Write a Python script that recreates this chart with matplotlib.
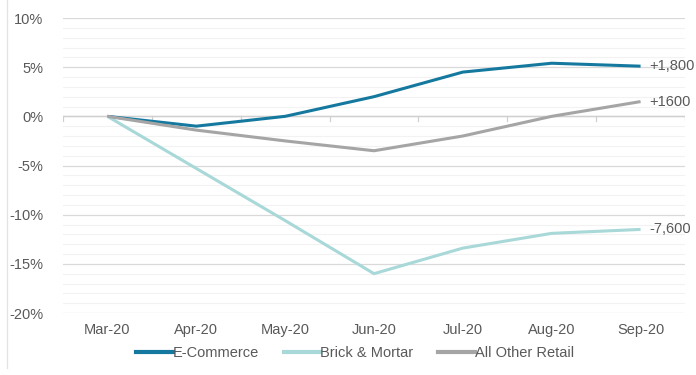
import matplotlib.pyplot as plt
from matplotlib.ticker import MultipleLocator, FuncFormatter
from matplotlib.lines import Line2D

plt.rcParams['font.family'] = ['Liberation Sans', 'DejaVu Sans']

# monthly change vs March, in percent
months = ['Mar-20', 'Apr-20', 'May-20', 'Jun-20', 'Jul-20', 'Aug-20', 'Sep-20']
ecommerce = [0, -1.0, 0.0, 2.0, 4.5, 5.4, 5.1]
brick_mortar = [0, -5.3, -10.6, -16.0, -13.4, -11.9, -11.5]
other_retail = [0, -1.4, -2.5, -3.5, -2.0, 0.0, 1.5]
end_labels = ['+1,800', '-7,600', '+1600']

series = [
    ('E-Commerce', ecommerce, '#15799F'),
    ('Brick & Mortar', brick_mortar, '#A8D8D8'),
    ('All Other Retail', other_retail, '#A5A5A5'),
]
text_color = '#595959'

fig = plt.figure(figsize=(6.96, 3.75), dpi=100)
ax = fig.add_axes([63 / 696, 1 - 313 / 375, (685 - 63) / 696, (313 - 18) / 375])

x = list(range(len(months)))
for (name, vals, col), lab in zip(series, end_labels):
    ax.plot(x, vals, color=col, lw=2.2, label=name, solid_capstyle='butt', zorder=3)
    ax.text(x[-1] + 0.1, vals[-1], lab, color=text_color, fontsize=10.5,
            ha='left', va='center')

ax.set_xlim(-0.5, len(months) - 0.5)
ax.set_ylim(-20, 10)
ax.yaxis.set_major_locator(MultipleLocator(5))
ax.yaxis.set_minor_locator(MultipleLocator(1))
ax.yaxis.set_major_formatter(FuncFormatter(lambda v, p: f'{v:.0f}%'))
ax.grid(axis='y', which='major', color='#D9D9D9', lw=0.9)
ax.grid(axis='y', which='minor', color='#F2F2F2', lw=0.8)
ax.set_axisbelow(True)

ax.set_xticks(x)
ax.set_xticklabels(months)
ax.tick_params(axis='x', length=0, pad=7, colors=text_color, labelsize=10.5)
ax.tick_params(axis='y', which='both', length=0, pad=14, colors=text_color, labelsize=10.5)
for s in ax.spines.values():
    s.set_visible(False)

# zero line with small category separators
ax.axhline(0, color='#D0D0D0', lw=1.0, zorder=1)
for b in range(len(months) + 1):
    ax.plot([b - 0.5, b - 0.5], [0, -0.45], color='#D0D0D0', lw=0.9, zorder=1)

handles = [Line2D([], [], color=c, lw=3) for _, _, c in series]
fig.legend(handles, [n for n, _, _ in series], loc='center', ncol=3,
           bbox_to_anchor=(0.51, 1 - 353 / 375), frameon=False, fontsize=10.5,
           labelcolor=text_color, handlelength=2.5, handletextpad=0.0,
           columnspacing=1.7)

# thin frame line on the left edge
fig.add_artist(Line2D([7 / 696, 7 / 696], [0.02, 1.0], color='#E3E3E3', lw=0.9))

fig.savefig('out.png', dpi=100)
